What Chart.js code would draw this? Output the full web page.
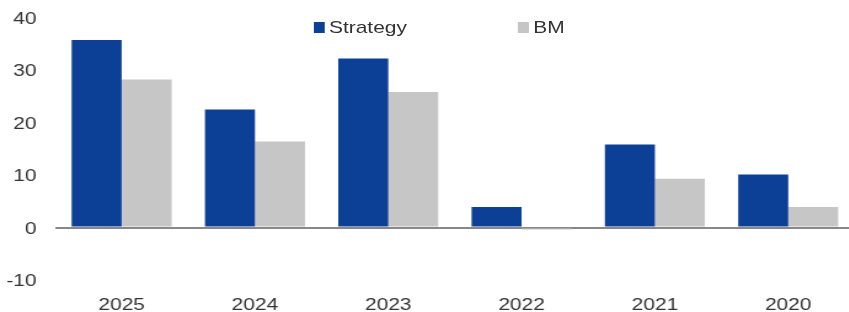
<!DOCTYPE html>
<html>
<head>
<meta charset="utf-8">
<script src="https://cdn.jsdelivr.net/npm/chart.js@4.4.1/dist/chart.umd.min.js"></script>
<style>
  body { margin: 0; overflow: hidden; background: #fff; }
  /* the reference is stretched horizontally, so the whole chart is drawn narrow and scaled */
  #wrap { position: relative; width: 695px; height: 312px; transform: scaleX(1.23); transform-origin: 0 0; }
  #legend { position: absolute; top: 0; left: 254.5px; font-family: "Liberation Sans", Arial, sans-serif; font-size: 17px; color: #333; }
  .item { position: absolute; top: 18px; width: 166px; white-space: nowrap; }
  .item i { position: absolute; left: 0; top: 4px; width: 9px; height: 11px; }
  .item span { position: absolute; left: 13px; top: 0; line-height: 20px; }
</style>
</head>
<body>
<div id="wrap">
  <canvas id="chart" width="695" height="312"></canvas>
  <div id="legend"></div>
</div>
<script>
// chart data
const categories = ["2025", "2024", "2023", "2022", "2021", "2020"];
const strategy = [35.7, 22.5, 32.2, 3.9, 15.8, 10.1];
const bm = [28.2, 16.4, 25.8, -0.4, 9.3, 3.9];
const seriesNames = ["Strategy", "BM"];
const seriesColors = ["#0C4097", "#C6C6C6"];
const yTicks = [-10, 0, 10, 20, 30, 40];

const font = { family: "'Liberation Sans', Arial, sans-serif", size: 17 };

const data = {
  labels: categories,
  datasets: [
    {
      label: seriesNames[0],
      data: strategy,
      backgroundColor: seriesColors[0],
      categoryPercentage: 0.75,
      barPercentage: 1,
    },
    {
      label: seriesNames[1],
      data: bm,
      backgroundColor: seriesColors[1],
      categoryPercentage: 0.75,
      barPercentage: 1,
    },
  ],
};

const config = {
  type: "bar",
  data: data,
  options: {
    responsive: false,
    animation: false,
    layout: {
      padding: { top: 17.5, left: 0, right: 0, bottom: 0 },
    },
    plugins: {
      legend: { display: false },
      tooltip: { enabled: false },
    },
    scales: {
      x: {
        grid: { display: false, drawTicks: false },
        border: { display: false },
        ticks: { color: "#333", font: font, padding: 15, maxRotation: 0 },
        afterFit: (scale) => {
          scale.height = 32;
        },
      },
      y: {
        min: yTicks[0],
        max: yTicks[yTicks.length - 1],
        afterBuildTicks: (scale) => {
          scale.ticks = yTicks.map((v) => ({ value: v }));
        },
        grid: {
          drawTicks: false,
          color: (ctx) => (ctx.tick && ctx.tick.value === 0 ? "#888888" : "rgba(0,0,0,0)"),
          lineWidth: 2,
        },
        border: { display: false },
        ticks: { color: "#333", font: font, padding: 15, labelOffset: 1.5 },
        afterFit: (scale) => {
          scale.width = 44.7;
          scale.paddingTop = 0;
          scale.paddingBottom = 0;
        },
      },
    },
  },
};

const chart = new Chart(document.getElementById("chart"), config);

// html legend, built from the datasets
const legend = document.getElementById("legend");
chart.data.datasets.forEach((ds, i) => {
  const item = document.createElement("div");
  item.className = "item";
  item.style.left = i * 166 + "px";
  item.innerHTML = '<i style="background:' + ds.backgroundColor + '"></i><span>' + ds.label + "</span>";
  legend.appendChild(item);
});
</script>
</body>
</html>
